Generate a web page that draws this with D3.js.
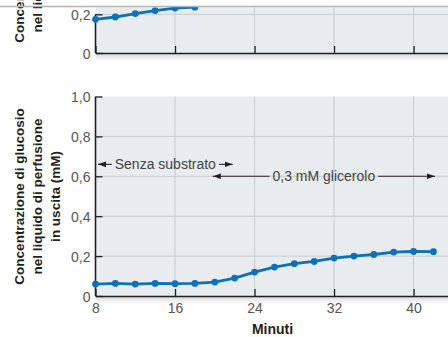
<!DOCTYPE html>
<html>
<head>
<meta charset="utf-8">
<script src="https://cdn.jsdelivr.net/npm/d3@7"></script>
<style>
  body { margin: 0; background: #fff; }
  svg { display: block; font-family: "Liberation Sans", Arial, sans-serif; }
</style>
</head>
<body>
<div id="chart"></div>
<script>
// values
const minutes = [8, 10, 12, 14, 16, 18, 20, 22, 24, 26, 28, 30, 32, 34, 36, 38, 40, 42];
const glucoseGlycerol = [0.06, 0.063, 0.06, 0.063, 0.062, 0.063, 0.07, 0.09, 0.12, 0.145, 0.162, 0.173, 0.19, 0.2, 0.208, 0.22, 0.223, 0.222];
const topMinutes = [8, 10, 12, 14, 16, 18];
const glucoseTop = [0.174, 0.186, 0.204, 0.219, 0.232, 0.237];
const xTicks = [8, 16, 24, 32, 40];
const yTicks = [0, 0.2, 0.4, 0.6, 0.8, 1.0];
const yTicksTop = [0, 0.2];
const yLabelLines = ["Concentrazione di glucosio", "nel liquido di perfusione", "in uscita (mM)"];
const periods = [
    { label: "Senza substrato", from: 8.25, to: 21.8, y: 0.66 },
    { label: "0,3 mM glicerolo", from: 19.8, to: 42.15, y: 0.6 }
];

const W = 448, H = 337;
const blue = "#0b71ba", ink = "#231f20", grid = "#c8cbcd", bg = "#e8ecee";

const svg = d3.select("#chart").append("svg")
    .attr("width", W)
    .attr("height", H);

const defs = svg.append("defs");
const grad = defs.append("linearGradient").attr("id", "shade")
    .attr("x1", 0).attr("y1", 0).attr("x2", 0).attr("y2", 1);
grad.append("stop").attr("offset", 0).attr("stop-color", "#000").attr("stop-opacity", 0.16);
grad.append("stop").attr("offset", 1).attr("stop-color", "#000").attr("stop-opacity", 0);

defs.append("marker").attr("id", "arrow")
    .attr("viewBox", "0 0 10 10").attr("refX", 10).attr("refY", 5)
    .attr("markerWidth", 8).attr("markerHeight", 8).attr("markerUnits", "userSpaceOnUse")
    .attr("orient", "auto-start-reverse")
    .append("path").attr("d", "M0,1.5L10,5L0,8.5z").attr("fill", ink);

const x = d3.scaleLinear().domain([8, 44]).range([95.5, 95.5 + 36 * 9.94]);
const fmt = d => d === 0 ? "0" : d.toFixed(1).replace(".", ",");

function panel(y, top, ticks, showX) {
    const g = svg.append("g");
    const bottom = y(0);
    g.append("rect").attr("x", x(8)).attr("y", top)
        .attr("width", W - x(8)).attr("height", bottom - top).attr("fill", bg);
    g.append("rect").attr("x", x(8)).attr("y", bottom)
        .attr("width", W - x(8)).attr("height", 8).attr("fill", "url(#shade)");

    // gridlines
    g.append("g").selectAll("line").data(xTicks.slice(1)).join("line")
        .attr("x1", d => x(d)).attr("x2", d => x(d))
        .attr("y1", top).attr("y2", bottom)
        .attr("stroke", grid).attr("stroke-width", 1);
    g.append("g").selectAll("line").data(ticks.filter(d => d > 0 && y(d) > top + 1)).join("line")
        .attr("x1", x(8)).attr("x2", W)
        .attr("y1", d => y(d)).attr("y2", d => y(d))
        .attr("stroke", grid).attr("stroke-width", 1);

    const xa = g.append("g")
        .attr("transform", "translate(0," + bottom + ")")
        .call(d3.axisBottom(x).tickValues(xTicks).tickSize(-7).tickSizeOuter(0).tickPadding(7).tickFormat(d3.format("d")));
    if (!showX) xa.selectAll("text").remove();

    const ya = g.append("g")
        .attr("transform", "translate(" + x(8) + ",0)")
        .call(d3.axisLeft(y).tickValues(ticks).tickSize(-7).tickSizeOuter(0).tickPadding(5).tickFormat(fmt));
    ya.select(".domain").attr("d", "M0," + bottom + "V" + Math.max(top, y(ticks[ticks.length - 1])));

    [xa, ya].forEach(a => {
        a.select(".domain").attr("stroke", ink).attr("stroke-width", 1.6);
        a.selectAll(".tick line").attr("stroke", ink).attr("stroke-width", 1.3);
        a.selectAll(".tick text").attr("fill", "#555").attr("font-size", "14px")
            .attr("font-family", "Liberation Sans, Arial, sans-serif");
    });
    ya.selectAll(".tick text").attr("dy", "0.36em");
    return g;
}

// top panel (cropped at the top edge)
const yTop = d3.scaleLinear().domain([0, 0.2]).range([53, 14.3]);
panel(yTop, 7.5, yTicksTop, false);

defs.append("clipPath").attr("id", "clipTop")
    .append("rect").attr("x", 0).attr("y", 7).attr("width", W).attr("height", 60);
const topData = topMinutes.map((m, i) => [m, glucoseTop[i]]);
const gTop = svg.append("g").attr("clip-path", "url(#clipTop)");
gTop.append("path").datum(topData)
    .attr("d", d3.line().x(d => x(d[0])).y(d => yTop(d[1])))
    .attr("fill", "none").attr("stroke", blue).attr("stroke-width", 2.8);
gTop.selectAll("circle").data(topData).join("circle")
    .attr("cx", d => x(d[0])).attr("cy", d => yTop(d[1])).attr("r", 3.4).attr("fill", blue);

// bottom panel
const y = d3.scaleLinear().domain([0, 1]).range([296, 96.5]);
panel(y, 96.5, yTicks, true);

const data = minutes.map((m, i) => [m, glucoseGlycerol[i]]);
svg.append("path").datum(data)
    .attr("d", d3.line().x(d => x(d[0])).y(d => y(d[1])))
    .attr("fill", "none").attr("stroke", blue).attr("stroke-width", 2.8);
svg.append("g").selectAll("circle").data(data).join("circle")
    .attr("cx", d => x(d[0])).attr("cy", d => y(d[1])).attr("r", 3.4).attr("fill", blue);

// period annotations
periods.forEach(p => {
    const cx = (x(p.from) + x(p.to)) / 2, cy = y(p.y);
    const t = svg.append("text").attr("x", cx).attr("y", cy).attr("dy", "0.36em")
        .attr("text-anchor", "middle").attr("font-size", "14px").attr("fill", "#444")
        .text(p.label);
    const half = t.node().getComputedTextLength() / 2 + 3;
    [[cx - half, x(p.from)], [cx + half, x(p.to)]].forEach(([a, b]) => {
        svg.append("line").attr("x1", a).attr("x2", b).attr("y1", cy).attr("y2", cy)
            .attr("stroke", ink).attr("stroke-width", 1.1).attr("marker-end", "url(#arrow)");
    });
});

// axis titles
function yTitle(cy) {
    const t = svg.append("text")
        .attr("transform", "translate(0," + cy + ") rotate(-90)")
        .attr("text-anchor", "middle").attr("font-size", "13.5px")
        .attr("font-weight", "bold").attr("fill", ink);
    yLabelLines.forEach((line, i) => {
        t.append("tspan").attr("x", 0).attr("y", 23.5 + i * 18).text(line);
    });
}
yTitle(-45.5);
yTitle(196.5);

svg.append("text").attr("x", 272.5).attr("y", 333.5).attr("text-anchor", "middle")
    .attr("font-size", "14px").attr("font-weight", "bold").attr("fill", ink)
    .text("Minuti");

// crop edge at the top
svg.append("line").attr("x1", 0).attr("x2", W).attr("y1", 6.5).attr("y2", 6.5)
    .attr("stroke", "#b3b3b3").attr("stroke-width", 1.5);
</script>
</body>
</html>
